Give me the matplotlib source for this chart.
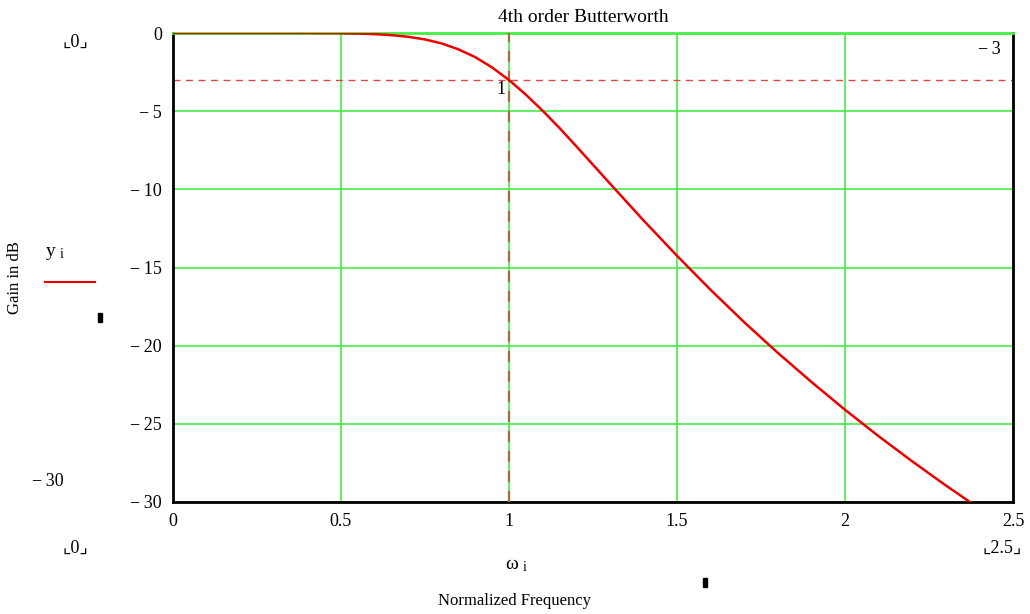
import numpy as np
import matplotlib.pyplot as plt

# normalized frequency and gain (dB)
omega = [0.0, 0.1, 0.2, 0.3, 0.4, 0.5, 0.55, 0.6, 0.65, 0.7, 0.75, 0.8, 0.85, 0.9,
         0.95, 1.0, 1.05, 1.1, 1.15, 1.2, 1.3, 1.4, 1.5, 1.6, 1.7, 1.8, 1.9, 2.0,
         2.1, 2.2, 2.3, 2.4, 2.5]
gain_db = [0.0, 0.0, 0.0, 0.0, -0.003, -0.017, -0.036, -0.072, -0.137, -0.243, -0.41,
           -0.67, -1.05, -1.55, -2.21, -3.01, -3.94, -4.97, -6.07, -7.24, -9.62, -11.98,
           -14.25, -16.43, -18.50, -20.46, -22.32, -24.10, -25.79, -27.40, -28.94,
           -30.42, -31.84]

x_ticks = [0, 0.5, 1, 1.5, 2, 2.5]
x_labels = ['0', '0.5', '1', '1.5', '2', '2.5']
y_ticks = [0, -5, -10, -15, -20, -25, -30]
y_labels = ['0', '\u2212\u20095', '\u2212\u200910', '\u2212\u200915', '\u2212\u200920',
            '\u2212\u200925', '\u2212\u200930']

marker_x = 1
marker_y = -3

plt.rcParams['font.family'] = ['Liberation Serif', 'DejaVu Sans']
plt.rcParams['font.size'] = 13

fig = plt.figure(figsize=(10.3, 6.14), dpi=100, facecolor='w')
ax = fig.add_axes([173 / 1030, 1 - 502 / 614, 840 / 1030, 469 / 614])

ax.set_xlim(0, 2.5)
ax.set_ylim(-30, 0)
ax.set_xticks(x_ticks)
ax.set_xticklabels(x_labels)
ax.set_yticks(y_ticks)
ax.set_yticklabels(y_labels)
ax.tick_params(length=0, pad=8)
ax.grid(True, color='#44ee44', linewidth=1.2)
ax.set_axisbelow(True)
for s in ax.spines.values():
    s.set_color('black')
    s.set_linewidth(2)
ax.spines['top'].set_color('#44ee44')

ax.axhline(marker_y, color='#e04848', linestyle=(0, (5, 4)), linewidth=1)
ax.axvline(marker_x, color='#a8683a', linestyle=(0, (5, 4)), linewidth=1.6, zorder=3)
ax.plot(omega, gain_db, color='#ee0000', linewidth=1.8, zorder=4)

ax.text(0.985, 0.965, '\u2212\u20093', transform=ax.transAxes, ha='right', va='center')
ax.text(marker_x - 0.01, marker_y - 0.1, '1', ha='right', va='top')

fig.text(583 / 1030, 1 - 17 / 614, '4th order Butterworth', ha='center', va='center',
         fontsize=14)

fig.text(75 / 1030, 1 - 42 / 614, '\u231e0\u231f', ha='center', va='center')
fig.text(48 / 1030, 1 - 482 / 614, '\u2212\u200930', ha='center', va='center')
fig.text(75 / 1030, 1 - 548 / 614, '\u231e0\u231f', ha='center', va='center')
fig.text(1002 / 1030, 1 - 548 / 614, '\u231e2.5\u231f', ha='center', va='center')
fig.text(15 / 1030, 1 - 278 / 614, 'Gain in dB', rotation=90, ha='center', va='center',
         fontsize=12)
fig.text(55 / 1030, 1 - 253 / 614, r'$\mathregular{y_{\ i}}$', ha='center', va='center',
         fontsize=14)
fig.lines.append(plt.Line2D([45 / 1030, 95 / 1030], [1 - 282 / 614, 1 - 282 / 614],
                            transform=fig.transFigure, color='#ee0000', linewidth=1.5))
fig.text(517 / 1030, 1 - 566 / 614, r'$\mathregular{\omega_{\ i}}$', ha='center',
         va='center', fontsize=14)
fig.text(515 / 1030, 1 - 601 / 614, 'Normalized Frequency', ha='center', va='center',
         fontsize=12)
fig.patches.append(plt.Rectangle((98 / 1030, 1 - 322 / 614), 4 / 1030, 9 / 614,
                                 transform=fig.transFigure, color='black'))
fig.patches.append(plt.Rectangle((703 / 1030, 1 - 587 / 614), 4 / 1030, 9 / 614,
                                 transform=fig.transFigure, color='black'))

fig.savefig('out.png', dpi=100)
